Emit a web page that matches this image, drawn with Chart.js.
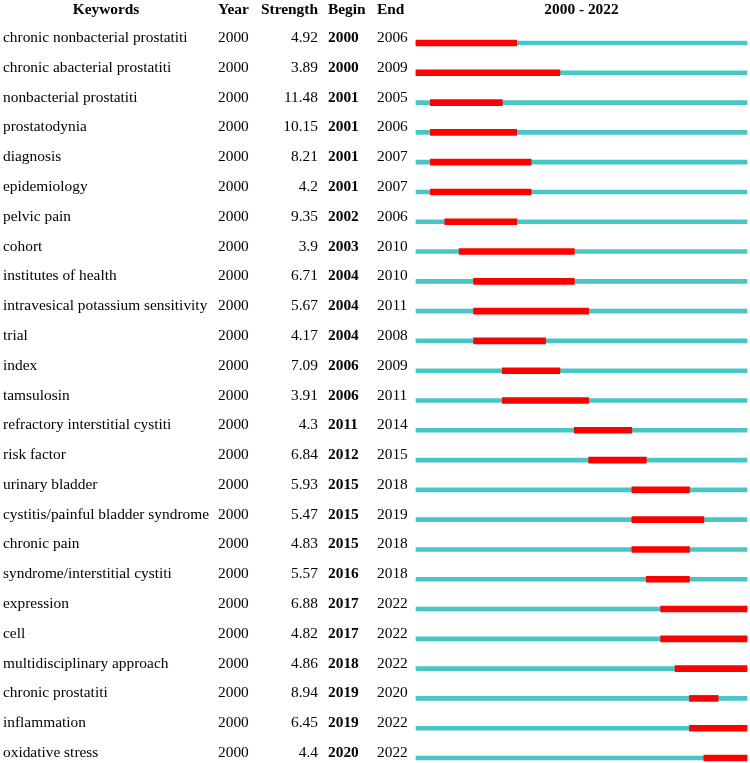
<!DOCTYPE html>
<html>
<head>
<meta charset="utf-8">
<script src="https://cdn.jsdelivr.net/npm/chart.js@4/dist/chart.umd.min.js"></script>
<style>
html,body{margin:0;padding:0;background:#fff;}
canvas{display:block;}
</style>
</head>
<body>
<canvas id="c" width="750" height="763"></canvas>
<script>
const keywords = ["chronic nonbacterial prostatiti","chronic abacterial prostatiti","nonbacterial prostatiti","prostatodynia","diagnosis","epidemiology","pelvic pain","cohort","institutes of health","intravesical potassium sensitivity","trial","index","tamsulosin","refractory interstitial cystiti","risk factor","urinary bladder","cystitis/painful bladder syndrome","chronic pain","syndrome/interstitial cystiti","expression","cell","multidisciplinary approach","chronic prostatiti","inflammation","oxidative stress"];
const years = [2000,2000,2000,2000,2000,2000,2000,2000,2000,2000,2000,2000,2000,2000,2000,2000,2000,2000,2000,2000,2000,2000,2000,2000,2000];
const strengths = [4.92,3.89,11.48,10.15,8.21,4.2,9.35,3.9,6.71,5.67,4.17,7.09,3.91,4.3,6.84,5.93,5.47,4.83,5.57,6.88,4.82,4.86,8.94,6.45,4.4];
const begins = [2000,2000,2001,2001,2001,2001,2002,2003,2004,2004,2004,2006,2006,2011,2012,2015,2015,2015,2016,2017,2017,2018,2019,2019,2020];
const ends = [2006,2009,2005,2006,2007,2007,2006,2010,2010,2011,2008,2009,2011,2014,2015,2018,2019,2018,2018,2022,2022,2022,2020,2022,2022];
const firstYear = 2000;
const lastYear = 2022;
const headers = ["Keywords","Year","Strength","Begin","End"];
const rangeLabel = firstYear + " - " + lastYear;

const burstData = begins.map((b,i)=>[b, ends[i]+1]);
const fullData = keywords.map(()=>[firstYear, lastYear+1]);

const FONT = "'Liberation Serif','Times New Roman',serif";
const FS = '15.4px ';

const tablePlugin = {
  id: 'tableText',
  afterDraw(chart){
    const ctx = chart.ctx;
    const ys = chart.scales.y;
    const area = chart.chartArea;
    ctx.save();
    ctx.fillStyle = '#000';
    ctx.textBaseline = 'alphabetic';
    const hy = ys.getPixelForValue(0) - 29;
    ctx.font = 'bold ' + FS + FONT;
    ctx.textAlign = 'center';
    ctx.fillText(headers[0], 106, hy);
    ctx.textAlign = 'left';
    ctx.fillText(headers[1], 218, hy);
    ctx.textAlign = 'right';
    ctx.fillText(headers[2], 318, hy);
    ctx.textAlign = 'left';
    ctx.fillText(headers[3], 328, hy);
    ctx.fillText(headers[4], 377, hy);
    ctx.textAlign = 'center';
    ctx.fillText(rangeLabel, (area.left + area.right)/2, hy);
    for (let i = 0; i < keywords.length; i++) {
      const y = ys.getPixelForValue(i) - 1;
      ctx.font = FS + FONT;
      ctx.textAlign = 'left';
      ctx.fillText(keywords[i], 3, y);
      ctx.fillText(String(years[i]), 218, y);
      ctx.textAlign = 'right';
      ctx.fillText(String(strengths[i]), 318, y);
      ctx.textAlign = 'left';
      ctx.font = 'bold ' + FS + FONT;
      ctx.fillText(String(begins[i]), 328, y);
      ctx.font = FS + FONT;
      ctx.fillText(String(ends[i]), 377, y);
    }
    ctx.restore();
  }
};

new Chart(document.getElementById('c'), {
  type: 'bar',
  data: {
    labels: keywords,
    datasets: [
      { label: 'burst', data: burstData, backgroundColor: '#FF0000', barThickness: 6, borderWidth: 0, order: 0, clip: false },
      { label: 'span', data: fullData, backgroundColor: '#48C6C6', barThickness: 4, borderWidth: 0, order: 1, clip: false }
    ]
  },
  options: {
    indexAxis: 'y',
    responsive: false,
    animation: false,
    layout: { padding: { left: 416, right: 3, top: 43, bottom: 5 } },
    datasets: { bar: { grouped: false } },
    scales: {
      x: { type: 'linear', min: firstYear, max: lastYear + 1, display: false },
      y: { type: 'category', offset: false, display: false }
    },
    plugins: { legend: { display: false }, tooltip: { enabled: false } }
  },
  plugins: [tablePlugin]
});
</script>
</body>
</html>
